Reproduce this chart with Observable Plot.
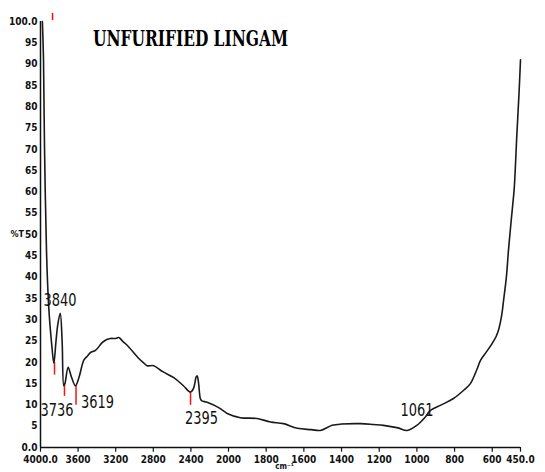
<!DOCTYPE html>
<html>
<head>
<meta charset="utf-8">
<script src="https://cdn.jsdelivr.net/npm/d3@7"></script>
<script src="https://cdn.jsdelivr.net/npm/@observablehq/plot@0.6"></script>
<style>
  html, body { margin: 0; padding: 0; background: #fff; }
  #chart svg { display: block; }
</style>
</head>
<body>
<div id="chart"></div>
<script>
// Spectrum: wavenumber (cm-1) and transmittance (%T)
const wavenumber = [3980, 3968, 3957, 3936, 3915, 3900, 3880, 3858, 3835, 3815, 3790, 3770, 3752, 3740, 3706, 3670, 3628, 3590, 3539, 3500, 3468, 3415, 3344, 3300, 3255, 3200, 3167, 3120, 3078, 2954, 2900, 2865, 2795, 2700, 2582, 2480, 2404, 2370, 2345, 2333, 2318, 2300, 2287, 2227, 2100, 2014, 1937, 1848, 1777, 1708, 1635, 1560, 1512, 1450, 1400, 1299, 1230, 1177, 1100, 1052, 1000, 956, 928, 870, 806, 750, 716, 680, 663, 630, 601, 580, 567, 550, 540, 525, 514, 500, 489, 483, 469, 458, 450];
const transmittance = [100, 91, 70, 46, 34, 29, 24, 19.8, 25, 29, 31.5, 25, 14.5, 15, 18.8, 16.5, 14.5, 16.5, 20.5, 21.5, 22.3, 22.8, 24.6, 25.3, 25.6, 25.6, 25.8, 24.8, 24, 20.9, 19.8, 19.2, 19.2, 17.8, 16.4, 14.5, 13, 14, 16.5, 16.8, 15, 11.5, 11, 10.6, 9.3, 8, 7, 6.8, 6, 5.6, 4.5, 4.2, 4, 5.2, 5.5, 5.6, 5.4, 5.2, 4.6, 4, 5.2, 7.1, 8.7, 10, 11.5, 13.5, 15, 18.5, 20.4, 22.5, 24.4, 26, 27.5, 31, 34.5, 40, 46.2, 53, 58, 61, 73.7, 83, 91];

// Axis ticks
const xTicks = [4000, 3600, 3200, 2800, 2400, 2000, 1800, 1600, 1400, 1200, 1000, 800, 600, 450];
const xTickLabels = ["4000.0", "3600", "3200", "2800", "2400", "2000", "1800", "1600", "1400", "1200", "1000", "800", "600", "450.0"];
const yTicks = [0, 5, 10, 15, 20, 25, 30, 35, 40, 45, 50, 55, 60, 65, 70, 75, 80, 85, 90, 95, 100];
const yTickLabels = ["0.0", "5", "10", "15", "20", "25", "30", "35", "40", "45", "50", "55", "60", "65", "70", "75", "80", "85", "90", "95", "100.0"];

// Peak annotations
const peakLabels = ["3840", "3736", "3619", "2395", "1061"];
const peakWn = [3851, 3745, 3622, 2404, 1052];
const markTop = [20, 15, 14.5, 12.7, null];
const markBottom = [17, 12, 9.9, 9.9, null];
const labelWn = [3793, 3824, 3394, 2287, 1000];
const labelT = [34.5, 8.7, 10.6, 6.8, 8.7];
const topMarkWn = [3872];
const topMarkRange = [100.2, 101.9];

const title = "UNFURIFIED LINGAM";
const yLabel = "%T";
const xLabel = "cm\u207B\u00B9";

const spectrum = wavenumber.map((w, i) => ({w, t: transmittance[i]}));
const peaks = peakLabels.map((label, i) => ({
  label, w: peakWn[i], top: markTop[i], bottom: markBottom[i], lw: labelWn[i], lt: labelT[i]
}));
const xLabelMap = new Map(xTicks.map((v, i) => [v, xTickLabels[i]]));
const yLabelMap = new Map(yTicks.map((v, i) => [v, yTickLabels[i]]));

const W = 545, H = 472;
const mL = 40, mR = 25, mT = 21, mB = 25;

// Two-speed wavenumber axis, as on the instrument chart:
// 4000 -> 2000 uses 188 units, 2000 -> 450 uses 292 units.
const axisPos = w => w >= 2000 ? (4000 - w) / 2000 * 188 : 188 + (2000 - w) / 1550 * 292;

const tickFamily = "'DejaVu Sans Condensed', 'Liberation Sans Narrow', sans-serif";

const plot = Plot.plot({
  width: W,
  height: H,
  marginLeft: mL,
  marginRight: mR,
  marginTop: mT,
  marginBottom: mB,
  style: {background: "#fff", color: "#111", fontFamily: tickFamily},
  x: {transform: axisPos, axis: null},
  y: {domain: [0, 100], axis: null},
  marks: [
    // y axis: labels only, right-aligned against the axis line
    Plot.text(yTicks, {y: d => d, frameAnchor: "left", dx: -3, textAnchor: "end",
      text: d => yLabelMap.get(d), fontSize: 10, fontWeight: "bold", fill: "#111", fontFamily: tickFamily}),
    // x axis: tick marks and labels below the baseline
    Plot.ruleX(xTicks, {x: d => d, y1: 0, y2: -1.1, stroke: "#111", strokeWidth: 1.2}),
    Plot.text(xTicks, {x: d => d, y: 0, dy: 12, text: d => xLabelMap.get(d),
      fontSize: 10, fontWeight: "bold", fill: "#111", fontFamily: tickFamily}),
    Plot.ruleY([0], {stroke: "#111", strokeWidth: 1.5}),
    Plot.ruleX([4000], {stroke: "#111", strokeWidth: 1.5}),
    Plot.ruleX(peaks.filter(d => d.top != null), {x: "w", y1: "bottom", y2: "top", stroke: "#ff1010", strokeWidth: 1.5}),
    Plot.ruleX(topMarkWn, {x: d => d, y1: topMarkRange[0], y2: topMarkRange[1], stroke: "#ff1010", strokeWidth: 1.5}),
    Plot.line(spectrum, {x: "w", y: "t", stroke: "#1a1a1a", strokeWidth: 1.6, curve: "catmull-rom"}),
    Plot.text(peaks, {x: "lw", y: "lt", text: "label", fontSize: 17, fill: "#111",
      fontFamily: "'Liberation Sans Narrow', 'DejaVu Sans Condensed', sans-serif", textAnchor: "middle"}),
    Plot.text([title], {frameAnchor: "top-left", dx: 150, dy: 9, text: d => d, textAnchor: "middle",
      fontSize: 22, fontWeight: "bold", fill: "#000",
      fontFamily: "'DejaVu Serif Condensed', 'DejaVu Serif', serif"}),
    Plot.text([yLabel], {frameAnchor: "left", dx: -30, text: d => d, fontSize: 9, fontWeight: "bold", fill: "#111"}),
    Plot.text([xLabel], {frameAnchor: "bottom", dx: 4, dy: 21, text: d => d, fontSize: 8, fontWeight: "bold", fill: "#111"})
  ]
});

document.getElementById("chart").appendChild(plot);

// Squeeze tall, narrow lettering like the scanned original
d3.select(plot).selectAll("text").each(function() {
  const t = this.textContent;
  if (t === title) {
    this.setAttribute("textLength", 195);
    this.setAttribute("lengthAdjust", "spacingAndGlyphs");
  } else if (peakLabels.includes(t)) {
    this.setAttribute("textLength", 33);
    this.setAttribute("lengthAdjust", "spacingAndGlyphs");
  }
});
</script>
</body>
</html>
